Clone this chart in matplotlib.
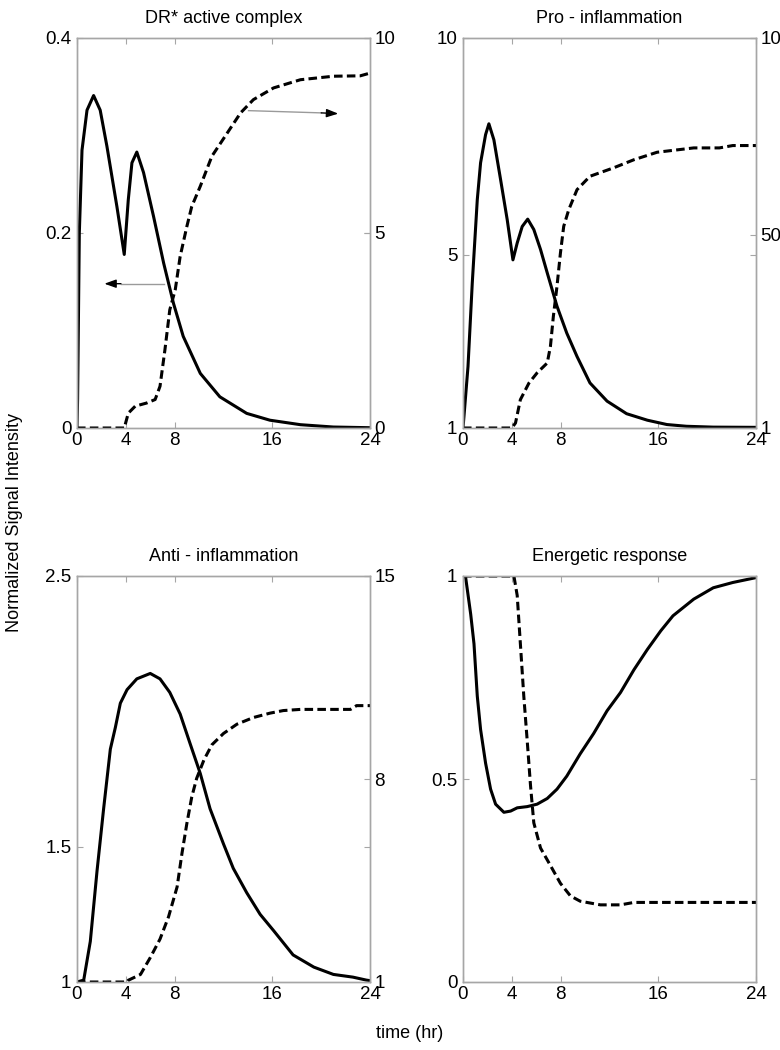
import numpy as np
import matplotlib.pyplot as plt

plt.rcParams['font.family'] = ['Liberation Sans', 'DejaVu Sans']

# DR* active complex (left: solid, right: dashed)
dr_t = [0, 0.05, 0.19, 0.41, 0.82, 1.36, 1.9, 2.45, 3.27, 3.87, 4.2, 4.5, 4.9, 5.45, 6.27,
        7.1, 7.9, 8.7, 10.1, 11.7, 13.9, 15.8, 18.3, 21, 24]
dr_v = [0.0, 0.03, 0.2, 0.285, 0.326, 0.341, 0.326, 0.289, 0.227, 0.178, 0.234, 0.272, 0.283,
        0.262, 0.217, 0.169, 0.128, 0.094, 0.056, 0.032, 0.015, 0.008, 0.0034, 0.001, 0.0003]
dr_dash_t = [0, 3.9, 3.95, 4.2, 4.77, 5.7, 6.4, 6.8, 7.2, 7.6, 8.05, 8.45, 9.0, 9.4, 10.1,
             11.05, 12.3, 13.4, 14.45, 16.1, 18.3, 21, 23.2, 24]
dr_dash_v = [0, 0, 0.09, 0.38, 0.56, 0.64, 0.73, 1.07, 2.0, 3.03, 3.55, 4.4, 5.17, 5.68, 6.2,
             6.97, 7.56, 8.08, 8.42, 8.72, 8.93, 9.02, 9.03, 9.1]

# Pro - inflammation
pro_t = [0, 0.08, 0.41, 0.76, 1.17, 1.44, 1.85, 2.12, 2.53, 3.08, 3.62, 4.09, 4.44, 4.85, 5.3,
         5.8, 6.35, 6.9, 7.7, 8.5, 9.34, 10.4, 11.8, 13.4, 15.1, 16.7, 18.3, 20.5, 24]
pro_v = [1.0, 1.27, 2.42, 4.35, 6.27, 7.12, 7.77, 8.02, 7.65, 6.73, 5.81, 4.88, 5.27, 5.65, 5.82,
         5.58, 5.12, 4.58, 3.81, 3.19, 2.65, 2.04, 1.62, 1.33, 1.18, 1.08, 1.04, 1.02, 1.015]
pro_dash_t = [0, 4.0, 4.3, 4.7, 5.4, 6.07, 6.9, 7.16, 7.4, 7.7, 7.98, 8.25, 8.66, 9.34, 10.4,
              12.3, 14.0, 15.9, 18.9, 21, 22.1, 24]
pro_dash_v = [1, 1, 2.27, 8.2, 12.4, 15, 17.5, 21.7, 29.3, 37, 45.4, 52.2, 56.4, 61.5, 64.9,
              67, 69.1, 71, 72.1, 72.1, 72.7, 72.7]

# Anti - inflammation
anti_t = [0, 0.55, 1.09, 1.64, 2.18, 2.73, 3.14, 3.55, 4.1, 4.9, 6.0, 6.8, 7.6, 8.45, 9.27,
          10.1, 10.9, 12.0, 12.8, 13.9, 15.0, 16.1, 17.7, 19.4, 21.0, 22.6, 23.7, 24]
anti_v = [1.0, 1.007, 1.15, 1.41, 1.64, 1.86, 1.94, 2.03, 2.08, 2.12, 2.14, 2.12, 2.07, 1.99, 1.88,
          1.77, 1.64, 1.51, 1.42, 1.33, 1.25, 1.19, 1.1, 1.055, 1.028, 1.018, 1.007, 1.005]
anti_dash_t = [0, 4.1, 4.2, 5.2, 6.0, 6.8, 7.5, 8.2, 8.6, 9.0, 9.4, 9.8, 10.4, 11.05, 12.0,
               13.1, 14.45, 15.8, 16.9, 18.3, 22.4, 22.9, 24]
anti_dash_v = [1, 1, 1.06, 1.26, 1.84, 2.48, 3.25, 4.28, 5.44, 6.47, 7.38, 8.02, 8.66, 9.18, 9.57,
               9.89, 10.12, 10.27, 10.36, 10.4, 10.4, 10.53, 10.53]

# Energetic response
en_t = [0, 0.2, 0.63, 0.9, 1.17, 1.44, 1.85, 2.26, 2.67, 3.35, 3.9, 4.44, 5.26, 6.07, 6.9, 7.7,
        8.5, 9.6, 10.7, 11.8, 12.9, 14.0, 15.1, 16.2, 17.2, 18.9, 20.5, 22.1, 24]
en_v = [1.0, 1.0, 0.906, 0.833, 0.704, 0.622, 0.539, 0.475, 0.438, 0.418, 0.421, 0.429, 0.432,
        0.438, 0.452, 0.475, 0.507, 0.562, 0.612, 0.668, 0.713, 0.769, 0.819, 0.865, 0.902,
        0.943, 0.971, 0.984, 0.996]
en_dash_t = [0, 4.17, 4.44, 4.7, 4.98, 5.26, 5.53, 5.8, 6.35, 7.16, 7.98, 8.8, 9.6, 11.25,
             12.9, 14.0, 24]
en_dash_v = [1.0, 1.0, 0.952, 0.833, 0.704, 0.594, 0.484, 0.392, 0.33, 0.287, 0.243, 0.212,
             0.199, 0.19, 0.19, 0.196, 0.196]

xticks = [0, 4, 8, 16, 24]
frame = '#a6a6a6'
lw = 2.2
dash = (0, (2.8, 1.4))

fig = plt.figure(figsize=(7.8, 10.5), dpi=100)


def panel(rect, title, t, v, td, vd, ylim, yticks, ylabels, ylim2, yticks2, ylabels2):
    ax = fig.add_axes(rect)
    ax2 = ax.twinx()
    ax.plot(t, v, color='black', lw=lw, solid_joinstyle='round')
    ax2.plot(td, vd, color='black', lw=lw, linestyle=dash)
    ax.set_xlim(0, 24)
    ax.set_ylim(*ylim)
    ax2.set_ylim(*ylim2)
    ax.set_xticks(xticks)
    ax.set_yticks(yticks)
    ax.set_yticklabels(ylabels)
    ax2.set_yticks(yticks2)
    ax2.set_yticklabels(ylabels2)
    for a in (ax, ax2):
        for s in a.spines.values():
            s.set_color(frame)
            s.set_linewidth(1.0)
        a.tick_params(direction='in', length=4, width=0.8, color=frame,
                      labelsize=13.5, labelcolor='black')
    ax.tick_params(axis='x', top=True, pad=3)
    ax.tick_params(axis='y', right=True, pad=4)
    ax2.tick_params(axis='y', pad=3)
    ax.set_title(title, fontsize=13, pad=11)
    return ax, ax2


top_b = 1 - 428 / 1050
top_h = 390 / 1050
bot_b = 1 - 982 / 1050
bot_h = 406 / 1050
w = 293 / 780
lx = 77 / 780
rx = 463 / 780

ax, ax2 = panel([lx, top_b, w, top_h], 'DR* active complex', dr_t, dr_v, dr_dash_t, dr_dash_v,
                (0, 0.4), [0, 0.2, 0.4], ['0', '0.2', '0.4'],
                (0, 10), [0, 5, 10], ['0', '5', '10'])
# arrows pointing to the matching axis
ax.plot([14.05, 20.0], [0.3255, 0.3232], color='#9a9a9a', lw=1)
ax.annotate('', xy=(21.4, 0.3224), xytext=(20.0, 0.3232),
            arrowprops=dict(arrowstyle='-|>,head_length=0.7,head_width=0.25',
                            color='black', lw=1, shrinkA=0, shrinkB=0))
ax.plot([7.09, 3.6], [0.148, 0.148], color='#9a9a9a', lw=1)
ax.annotate('', xy=(2.24, 0.148), xytext=(3.6, 0.148),
            arrowprops=dict(arrowstyle='-|>,head_length=0.7,head_width=0.25',
                            color='black', lw=1, shrinkA=0, shrinkB=0))

panel([rx, top_b, w, top_h], 'Pro - inflammation', pro_t, pro_v, pro_dash_t, pro_dash_v,
      (1, 10), [1, 5, 10], ['1', '5', '10'],
      (1, 100), [1, 50, 100], ['1', '50', '100'])

panel([lx, bot_b, w, bot_h], 'Anti - inflammation', anti_t, anti_v, anti_dash_t, anti_dash_v,
      (1, 2.5), [1, 1.5, 2.5], ['1', '1.5', '2.5'],
      (1, 15), [1, 8, 15], ['1', '8', '15'])

ax, ax2 = panel([rx, bot_b, w, bot_h], 'Energetic response', en_t, en_v, en_dash_t, en_dash_v,
                (0, 1), [0, 0.5, 1], ['0', '0.5', '1'],
                (0, 1), [], [])

fig.text(15 / 780, 1 - 522 / 1050, 'Normalized Signal Intensity', rotation=90,
         fontsize=13, ha='center', va='center')
fig.text(410 / 780, 1 - 1034 / 1050, 'time (hr)', fontsize=13, ha='center', va='center')

fig.savefig('out.png', dpi=100)
